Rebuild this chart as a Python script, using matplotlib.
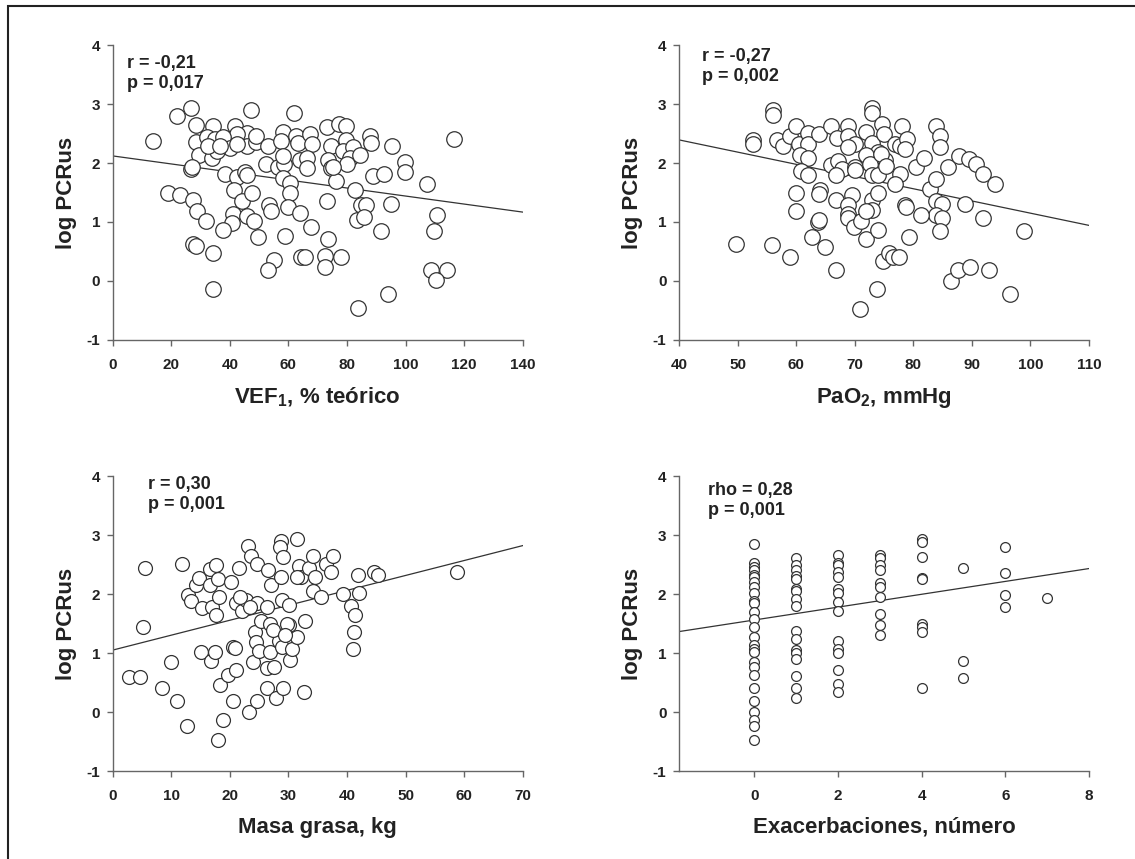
import numpy as np
import matplotlib
matplotlib.use("Agg")
import matplotlib.pyplot as plt
from matplotlib.patches import Rectangle

plt.rcParams['font.family'] = ['Liberation Sans', 'DejaVu Sans']
plt.rcParams['mathtext.fontset'] = 'custom'
plt.rcParams['mathtext.rm'] = 'Liberation Sans'
plt.rcParams['mathtext.bf'] = 'Liberation Sans:bold'
plt.rcParams['axes.unicode_minus'] = False

# ---- panel A: VEF1 (% teorico) vs log PCRus ----
vef_x = [13.6, 21.8, 26.7, 47.2, 62.0, 28.4, 34.4, 41.7, 46.0, 42.6, 28.5, 32.3, 34.9, 37.7,
         39.9, 45.7, 49.1, 48.8, 53.1, 58.0, 57.6, 62.7, 63.3, 67.5, 68.0, 73.2, 77.3, 79.8,
         79.5, 74.5, 78.6, 82.0, 87.8, 88.1, 95.3, 116.4, 29.4, 34.0, 35.6, 26.9, 27.0, 38.2,
         42.5, 45.1, 45.7, 52.2, 56.3, 58.5, 58.0, 58.0, 60.5, 64.0, 66.4, 66.4, 73.6, 74.5,
         76.4, 81.1, 80.0, 84.5, 88.9, 92.8, 99.7, 99.9, 107.2, 18.9, 23.1, 27.3, 28.9, 32.0,
         41.4, 44.1, 47.5, 53.4, 54.0, 60.7, 59.7, 63.9, 73.1, 82.7, 84.9, 86.4, 83.5, 85.8,
         95.2, 110.8, 109.7, 91.7, 41.0, 40.8, 37.5, 45.9, 48.3, 49.7, 59.0, 67.7, 73.6, 27.5,
         28.3, 34.4, 55.1, 53.2, 64.4, 65.6, 72.5, 72.4, 77.9, 108.6, 114.3, 110.5, 34.4, 94.0,
         83.9, 32.6, 36.6, 42.3, 75.2]
vef_y = [2.38, 2.80, 2.93, 2.89, 2.84, 2.64, 2.63, 2.63, 2.51, 2.49, 2.36, 2.44, 2.40, 2.44,
         2.25, 2.28, 2.36, 2.46, 2.29, 2.53, 2.38, 2.45, 2.34, 2.50, 2.33, 2.61, 2.66, 2.63,
         2.39, 2.28, 2.21, 2.27, 2.46, 2.34, 2.28, 2.41, 2.14, 2.09, 2.20, 1.90, 1.93, 1.82,
         1.77, 1.85, 1.79, 1.99, 1.94, 1.99, 2.12, 1.74, 1.66, 2.05, 2.08, 1.92, 2.05, 1.92,
         1.69, 2.08, 1.98, 2.13, 1.78, 1.81, 2.02, 1.84, 1.64, 1.49, 1.45, 1.37, 1.19, 1.02,
         1.54, 1.35, 1.50, 1.29, 1.18, 1.49, 1.25, 1.15, 1.36, 1.55, 1.29, 1.29, 1.04, 1.08,
         1.30, 1.12, 0.84, 0.84, 1.13, 0.99, 0.87, 1.11, 1.02, 0.75, 0.76, 0.91, 0.71, 0.62,
         0.60, 0.47, 0.36, 0.19, 0.41, 0.41, 0.42, 0.24, 0.41, 0.19, 0.19, 0.01, -0.13, -0.22,
         -0.46, 2.28, 2.28, 2.33, 1.94]

# ---- panel B: PaO2 (mmHg) vs log PCRus ----
pao2_x = [56.0, 56.0, 52.7, 52.7, 56.7, 57.8, 58.9, 59.9, 60.5, 62.0, 62.0, 63.9, 60.6, 62.0,
          60.9, 62.1, 65.9, 67.0, 68.9, 68.9, 70.0, 68.9, 72.0, 73.0, 73.0, 73.0, 74.7, 75.0,
          74.0, 72.0, 65.9, 67.2, 67.9, 66.9, 70.0, 70.0, 72.7, 73.0, 74.0, 75.2, 78.0, 76.9,
          77.7, 78.9, 78.6, 77.8, 76.9, 80.5, 81.9, 82.8, 83.9, 84.5, 84.5, 83.9, 83.9, 84.9,
          83.9, 84.9, 84.5, 85.9, 87.9, 89.6, 90.7, 91.9, 94.0, 88.9, 91.9, 98.9, 59.9, 59.9,
          64.0, 63.9, 63.8, 63.9, 66.9, 69.5, 68.9, 68.9, 68.9, 69.9, 71.0, 73.0, 73.0, 74.0,
          72.0, 72.0, 74.0, 78.6, 78.8, 81.3, 79.3, 49.8, 55.9, 59.0, 62.7, 64.9, 66.9, 74.9,
          75.9, 76.5, 77.5, 73.9, 70.9, 86.4, 87.7, 89.7, 92.9, 96.5, 74.5, 75.3]
pao2_y = [2.89, 2.81, 2.39, 2.32, 2.39, 2.29, 2.46, 2.63, 2.33, 2.51, 2.33, 2.49, 2.14, 2.09,
          1.86, 1.79, 2.63, 2.42, 2.63, 2.46, 2.32, 2.27, 2.53, 2.93, 2.84, 2.34, 2.66, 2.50,
          2.19, 2.13, 1.97, 2.03, 1.89, 1.79, 1.94, 1.88, 1.99, 1.79, 1.79, 2.05, 2.63, 2.32,
          2.29, 2.41, 2.24, 1.81, 1.64, 1.94, 2.08, 1.56, 2.62, 2.46, 2.27, 1.73, 1.36, 1.30,
          1.12, 1.07, 0.84, 1.93, 2.12, 2.06, 1.98, 1.82, 1.64, 1.31, 1.07, 0.84, 1.50, 1.19,
          1.54, 1.47, 1.00, 1.03, 1.37, 1.45, 1.29, 1.14, 1.06, 0.91, 1.02, 1.37, 1.20, 1.49,
          1.18, 0.71, 0.86, 1.29, 1.26, 1.12, 0.74, 0.62, 0.61, 0.41, 0.75, 0.58, 0.19, 0.34,
          0.48, 0.40, 0.40, -0.13, -0.47, 0.00, 0.19, 0.23, 0.19, -0.22, 2.16, 1.95]

# ---- panel C: masa grasa (kg) vs log PCRus ----
grasa_x = [2.8, 4.7, 5.5, 5.1, 8.4, 9.9, 10.9, 11.8, 12.7, 12.8, 13.3, 14.3, 14.7, 15.2, 15.1,
           16.6, 16.6, 17.0, 17.7, 18.0, 17.7, 16.8, 17.5, 18.0, 18.9, 18.4, 19.7, 21.0, 20.5,
           20.9, 20.6, 20.2, 21.5, 21.0, 22.0, 22.7, 23.1, 23.6, 24.7, 23.3, 24.7, 24.0, 24.3,
           24.5, 25.0, 24.7, 25.4, 26.3, 26.5, 27.0, 26.3, 27.5, 26.3, 27.8, 29.0, 26.9, 26.8,
           28.4, 28.9, 30.1, 29.8, 30.2, 30.6, 31.5, 32.8, 32.6, 28.7, 28.6, 29.1, 28.7, 28.9,
           30.1, 31.5, 31.8, 32.2, 33.6, 34.2, 34.5, 34.2, 35.5, 36.5, 37.2, 37.6, 39.3, 40.7,
           41.3, 41.2, 41.1, 41.9, 42.0, 44.6, 45.3, 58.8, 18.2, 21.7, 23.4, 27.4, 29.4, 31.4]
grasa_y = [0.59, 0.60, 2.45, 1.44, 0.41, 0.84, 0.18, 2.51, -0.23, 1.98, 1.89, 2.15, 2.27, 1.77,
           1.02, 2.42, 2.15, 1.78, 2.49, 2.26, 1.65, 0.86, 1.02, -0.47, -0.14, 0.45, 0.62, 0.71,
           1.10, 1.08, 0.19, 2.20, 2.45, 1.84, 1.72, 1.90, 2.82, 2.64, 2.51, 0.00, 0.18, 0.84,
           1.36, 1.19, 1.03, 1.84, 1.55, 1.78, 2.40, 2.16, 0.75, 0.76, 0.41, 0.24, 0.41, 1.50,
           1.02, 1.20, 1.11, 1.47, 1.50, 0.89, 1.07, 1.28, 1.54, 0.34, 2.90, 2.80, 2.63, 2.29,
           1.90, 1.81, 2.93, 2.47, 2.29, 2.44, 2.64, 2.29, 2.05, 1.95, 2.51, 2.38, 2.64, 2.00,
           1.80, 1.64, 1.36, 1.07, 2.33, 2.02, 2.37, 2.32, 2.37, 1.95, 1.95, 1.78, 1.39, 1.30,
           2.29]

# ---- panel D: exacerbaciones (numero) vs log PCRus ----
exac_x = ([0] * 27 + [1] * 17 + [2] * 15 + [3] * 10 + [4] * 9 + [5] * 3 + [6] * 4 + [7])
exac_y = [2.84, 2.53, 2.46, 2.40, 2.33, 2.29, 2.20, 2.12, 2.01, 1.89, 1.84, 1.69, 1.58, 1.44,
          1.28, 1.13, 1.07, 1.02, 0.85, 0.76, 0.62, 0.41, 0.19, 0.00, -0.13, -0.23, -0.47,
          2.61, 2.49, 2.40, 2.31, 2.26, 2.09, 2.05, 1.92, 1.79, 1.38, 1.24, 1.05, 1.00, 0.90,
          0.61, 0.41, 0.24,
          2.67, 2.53, 2.49, 2.37, 2.29, 2.09, 2.02, 1.86, 1.72, 1.20, 1.07, 1.00, 0.71, 0.48,
          0.34,
          2.66, 2.61, 2.50, 2.41, 2.18, 2.12, 1.95, 1.66, 1.48, 1.30,
          2.94, 2.88, 2.63, 2.27, 2.25, 1.50, 1.44, 1.36, 0.41,
          2.45, 0.86, 0.58,
          2.80, 2.36, 1.98, 1.78,
          1.93]

# regression lines (intercept, slope)
fit_vef = (2.12, -0.0068)
fit_pao2 = (3.22, -0.0207)
fit_grasa = (1.05, 0.0253)
fit_exac = (1.56, 0.109)

panels = [
    dict(x=vef_x, y=vef_y, fit=fit_vef, xlim=(0, 140), xticks=range(0, 141, 20),
         xlabel=r'VEF$_{\mathbf{1}}$, % teórico', txt='r = -0,21\np = 0,017',
         tpos=(0.035, 0.965), pos=(0.0993, 0.6042), ms=125),
    dict(x=pao2_x, y=pao2_y, fit=fit_pao2, xlim=(40, 110), xticks=range(40, 111, 10),
         xlabel=r'PaO$_{\mathbf{2}}$, mmHg', txt='r = -0,27\np = 0,002',
         tpos=(0.056, 0.99), pos=(0.5982, 0.6042), ms=125),
    dict(x=grasa_x, y=grasa_y, fit=fit_grasa, xlim=(0, 70), xticks=range(0, 71, 10),
         xlabel='Masa grasa, kg', txt='r = 0,30\np = 0,001',
         tpos=(0.086, 1.0), pos=(0.0993, 0.1024), ms=100),
    dict(x=exac_x, y=exac_y, fit=fit_exac, xlim=(-1.8, 8), xticks=range(0, 9, 2),
         xlabel='Exacerbaciones, número', txt='rho = 0,28\np = 0,001',
         tpos=(0.071, 0.98), pos=(0.5982, 0.1024), ms=50),
]

fig = plt.figure(figsize=(11.35, 8.59), dpi=100)
fig.patch.set_facecolor('white')

for p in panels:
    ax = fig.add_axes([p['pos'][0], p['pos'][1], 0.3612, 0.3434])
    ax.scatter(p['x'], p['y'], s=p['ms'], facecolors='white', edgecolors='#333333',
               linewidths=0.9, zorder=3)
    b0, b1 = p['fit']
    xl = np.array(p['xlim'])
    ax.plot(xl, b0 + b1 * xl, color='#333333', lw=0.9, zorder=2)
    ax.set_xlim(*p['xlim'])
    ax.set_ylim(-1, 4)
    ax.set_xticks(list(p['xticks']))
    ax.set_yticks(range(-1, 5))
    for s in ['top', 'right']:
        ax.spines[s].set_visible(False)
    for s in ['left', 'bottom']:
        ax.spines[s].set_color('#666666')
        ax.spines[s].set_linewidth(1.0)
    ax.tick_params(direction='out', length=4, width=1, color='#666666',
                   labelsize=11, labelcolor='#222222')
    ax.tick_params(axis='x', pad=9)
    ax.tick_params(axis='y', pad=5)
    for lab in ax.get_xticklabels() + ax.get_yticklabels():
        lab.set_fontweight('bold')
    ax.set_xlabel(p['xlabel'], fontsize=16, fontweight='bold', color='#222222', labelpad=10)
    ax.set_ylabel('log PCRus', fontsize=16, fontweight='bold', color='#222222', labelpad=7)
    ax.text(p['tpos'][0], p['tpos'][1], p['txt'], transform=ax.transAxes, va='top',
            ha='left', fontsize=13, fontweight='bold', color='#222222', linespacing=1.2)

# outer frame (left/top edges visible, right/bottom run off the image)
fig.patches.append(Rectangle((8 / 1135, -0.02), 1.0, 1.02 - 6 / 859,
                             transform=fig.transFigure, fill=False, ec='#222222', lw=1.5))

fig.savefig('out.png', dpi=100)
